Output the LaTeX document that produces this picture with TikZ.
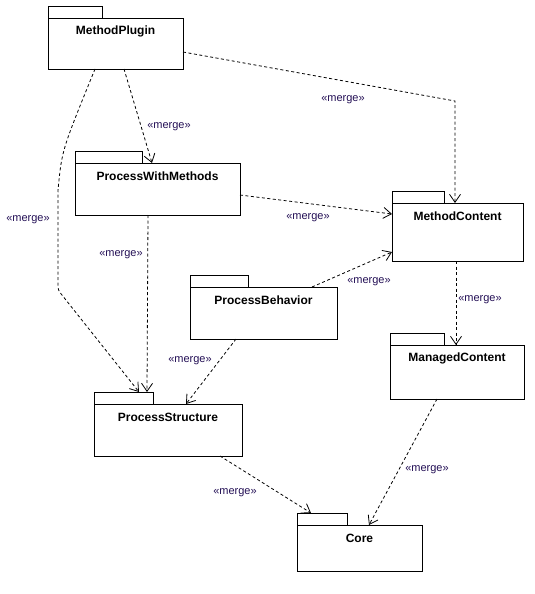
\documentclass[tikz,border=0pt]{standalone}
\usepackage{fontspec}
\setmainfont{Liberation Sans}
\usetikzlibrary{arrows.meta,calc}
\definecolor{lblc}{RGB}{35,15,85}
\tikzset{
  pkgbody/.style={draw, line width=0.9pt, fill=white, anchor=north west, inner sep=0pt, outer sep=0pt},
  pkgtab/.style={draw, line width=0.9pt, fill=white, anchor=south west, inner sep=0pt, outer sep=0pt, minimum height=12pt},
  pkgtitle/.style={font=\bfseries\fontsize{12}{14}\selectfont, inner sep=0pt},
  merge/.style={dash pattern=on 3pt off 2.5pt, line width=0.8pt, -{Straight Barb[length=8pt,width=11pt,line width=0.8pt]}},
  mlbl/.style={font=\fontsize{11}{13}\selectfont, text=lblc, inner sep=0pt}
}
\newcommand\umlpkg[7]{%
  \node[pkgbody, minimum width=#4pt, minimum height=#5pt] (#1) at (#2,#3) {};
  \node[pkgtab, minimum width=#6pt] (#1-tab) at (#1.north west) {};
  \node[pkgtitle] (#1-title) at ($(#1.north)+(0,13)$) {#7};
}
\begin{document}
\begin{tikzpicture}[x=1pt,y=-1pt]
\useasboundingbox (0,0) rectangle (535,594);
\umlpkg{mp}{48}{18}{135}{51}{54}{MethodPlugin}
\umlpkg{pwm}{75}{163}{165}{52}{67}{ProcessWithMethods}
\umlpkg{mc}{392}{203}{131}{58}{52}{MethodContent}
\umlpkg{pb}{190}{287}{147}{52}{58}{ProcessBehavior}
\umlpkg{ps}{94}{404}{148}{52}{59}{ProcessStructure}
\umlpkg{mgc}{390}{345}{134}{54}{54}{ManagedContent}
\umlpkg{core}{297}{525}{125}{46}{50}{Core}

\coordinate (c1) at (58,190);
\coordinate (c2) at (58,290);
\coordinate (c3) at (455,101);

\draw[merge] ($(mp.south west)+(76,0)$) -- ($(pwm.north west)+(77,0)$);
\draw[merge, rounded corners=3pt] ($(mp.south west)+(47,0)$) .. controls (62,150) .. (c1) -- (c2) -- ($(ps-tab.north west)+(45,0)$);
\draw[merge] ($(mp.south east)+(0,-17)$) -- (c3) -- ($(mc.north west)+(63,0)$);
\draw[merge] ($(pwm.south east)+(0,-20)$) -- ($(mc.north west)+(0,11)$);
\draw[merge] ($(pwm.south west)+(73,0)$) -- ($(ps-tab.north west)+(53,0)$);
\draw[merge] ($(pb.north west)+(122,0)$) -- ($(mc.south west)+(0,-9)$);
\draw[merge] ($(pb.south west)+(46,0)$) -- ($(ps.north west)+(92,0)$);
\draw[merge] ($(mc.south west)+(64,0)$) -- ($(mgc.north west)+(66,0)$);
\draw[merge] ($(mgc.south west)+(47,0)$) -- ($(core.north west)+(72,0)$);
\draw[merge] ($(ps.south west)+(126,0)$) -- ($(core-tab.north west)+(14,0)$);

\node[mlbl] (l1) at (169,127) {«merge»};
\node[mlbl] (l2) at (28,220) {«merge»};
\node[mlbl] (l3) at (343,100) {«merge»};
\node[mlbl] (l4) at (308,218) {«merge»};
\node[mlbl] (l5) at (121,255) {«merge»};
\node[mlbl] (l6) at (369,282) {«merge»};
\node[mlbl] (l7) at (190,361) {«merge»};
\node[mlbl] (l8) at (480,300) {«merge»};
\node[mlbl] (l9) at (427,470) {«merge»};
\node[mlbl] (l10) at (235,493) {«merge»};
\end{tikzpicture}
\end{document}
